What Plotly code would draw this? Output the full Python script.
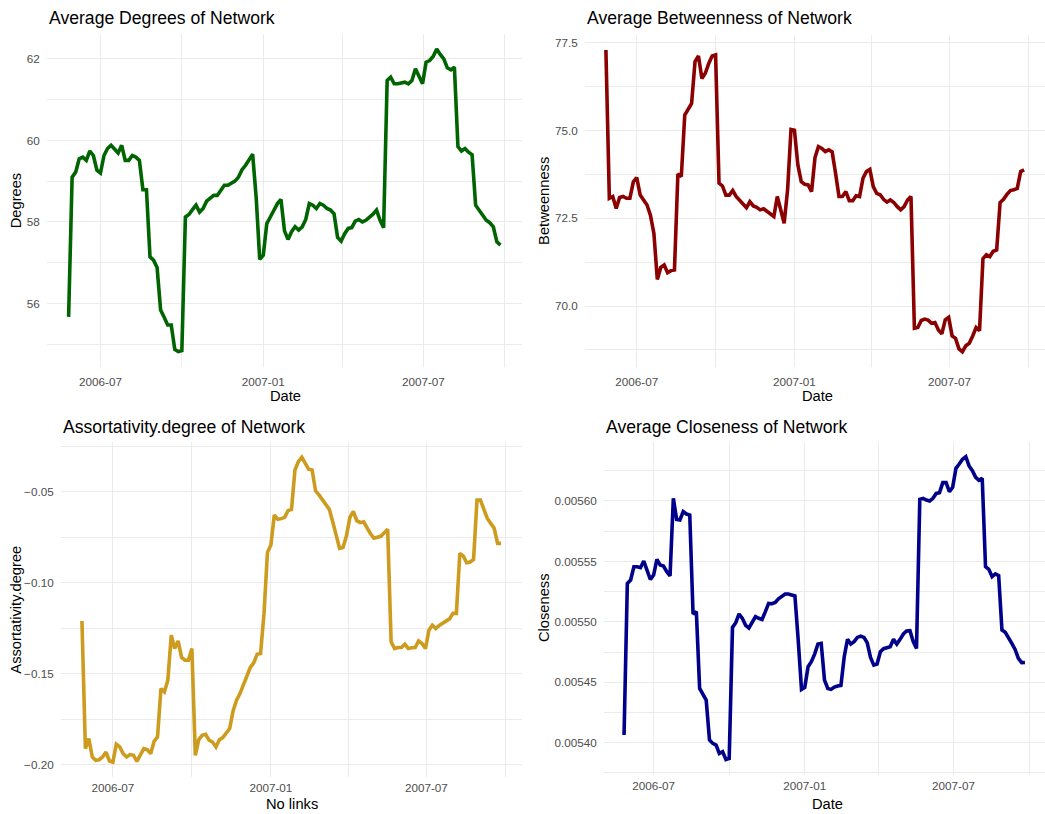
import pandas as pd
import plotly.graph_objects as go

# Sampling dates (every 4 days)
dates = pd.date_range("2006-05-26", periods=123, freq="4D")

degrees = [
    55.67, 59.10, 59.22, 59.55, 59.59, 59.51, 59.74, 59.63, 59.27, 59.20,
    59.63, 59.80, 59.88, 59.80, 59.69, 59.88, 59.51, 59.51, 59.63, 59.59,
    59.51, 58.79, 58.79, 57.14, 57.06, 56.88, 55.84, 55.66, 55.47, 55.47,
    54.87, 54.82, 54.84, 58.12, 58.18, 58.30, 58.41, 58.24, 58.33, 58.51,
    58.57, 58.65, 58.65, 58.76, 58.90, 58.90, 58.94, 59.00, 59.10, 59.28,
    59.39, 59.53, 59.66, 58.60, 57.08, 57.18, 57.96, 58.12, 58.29, 58.45,
    58.55, 57.78, 57.57, 57.76, 57.88, 57.80, 57.88, 58.06, 58.45, 58.41,
    58.33, 58.45, 58.41, 58.33, 58.29, 58.20, 57.62, 57.53, 57.71, 57.84,
    57.86, 58.02, 58.06, 58.00, 58.04, 58.11, 58.19, 58.29, 58.04, 57.86,
    61.47, 61.55, 61.39, 61.39, 61.41, 61.43, 61.39, 61.47, 61.76, 61.55,
    61.39, 61.92, 61.96, 62.06, 62.24, 62.11, 62.00, 61.78, 61.73, 61.80,
    59.85, 59.74, 59.80, 59.71, 59.65, 58.41, 58.29, 58.16, 58.04, 57.98,
    57.88, 57.51, 57.43,
]

betweenness = [
    77.29, 73.07, 73.12, 72.78, 73.09, 73.12, 73.07, 73.07, 73.54, 73.66,
    73.16, 73.04, 72.88, 72.58, 72.07, 70.76, 71.10, 71.17, 70.95, 71.01,
    71.03, 73.76, 73.69, 75.44, 75.63, 75.77, 76.96, 77.12, 76.48, 76.63,
    76.91, 77.12, 77.15, 73.50, 73.42, 73.16, 73.16, 73.29, 73.12, 73.00,
    72.91, 72.80, 72.97, 72.85, 72.81, 72.74, 72.77, 72.69, 72.64, 72.55,
    73.12, 72.74, 72.36, 73.31, 75.03, 75.01, 74.02, 73.54, 73.47, 73.45,
    73.26, 74.23, 74.54, 74.49, 74.40, 74.45, 74.39, 73.78, 73.12, 73.12,
    73.26, 73.00, 73.00, 73.14, 73.12, 73.64, 73.83, 73.89, 73.40, 73.21,
    73.17, 73.04, 72.96, 73.02, 72.95, 72.83, 72.74, 72.83, 73.02, 73.12,
    69.37, 69.39, 69.59, 69.63, 69.60, 69.51, 69.53, 69.32, 69.21, 69.61,
    69.68, 69.15, 69.08, 68.78, 68.70, 68.87, 68.94, 69.15, 69.39, 69.30,
    71.35, 71.46, 71.41, 71.56, 71.60, 72.95, 73.04, 73.18, 73.29, 73.31,
    73.35, 73.83, 73.88,
]

assortativity = [
    -0.1210, -0.1910, -0.1855, -0.1956, -0.1974, -0.1971, -0.1956, -0.1929, -0.1978, -0.1984,
    -0.1886, -0.1901, -0.1938, -0.1956, -0.1943, -0.1947, -0.1980, -0.1947, -0.1910, -0.1916,
    -0.1938, -0.1870, -0.1846, -0.1581, -0.1599, -0.1535, -0.1288, -0.1361, -0.1319, -0.1410,
    -0.1425, -0.1425, -0.1361, -0.1947, -0.1861, -0.1837, -0.1832, -0.1864, -0.1874, -0.1901,
    -0.1861, -0.1850, -0.1824, -0.1800, -0.1703, -0.1645, -0.1608, -0.1557, -0.1513, -0.1465,
    -0.1440, -0.1392, -0.1388, -0.1168, -0.0833, -0.0793, -0.0628, -0.0652, -0.0648, -0.0641,
    -0.0604, -0.0597, -0.0381, -0.0335, -0.0311, -0.0348, -0.0377, -0.0381, -0.0495, -0.0518,
    -0.0542, -0.0568, -0.0597, -0.0665, -0.0738, -0.0811, -0.0806, -0.0742, -0.0641, -0.0608,
    -0.0659, -0.0670, -0.0665, -0.0700, -0.0731, -0.0755, -0.0751, -0.0745, -0.0725, -0.0707,
    -0.1324, -0.1361, -0.1355, -0.1355, -0.1337, -0.1361, -0.1357, -0.1355, -0.1319, -0.1333,
    -0.1361, -0.1260, -0.1233, -0.1251, -0.1234, -0.1223, -0.1214, -0.1198, -0.1168, -0.1168,
    -0.0839, -0.0853, -0.0890, -0.0886, -0.0872, -0.0546, -0.0546, -0.0597, -0.0647, -0.0674,
    -0.0701, -0.0784, -0.0784,
]

closeness = [
    0.0054063, 0.0055318, 0.0055346, 0.0055456, 0.0055456, 0.0055448, 0.0055503, 0.0055415, 0.0055352, 0.0055387,
    0.0055517, 0.0055470, 0.0055462, 0.0055415, 0.0055379, 0.0056022, 0.0055848, 0.0055843, 0.0055912, 0.0055892,
    0.0055884, 0.0055065, 0.0055084, 0.0054449, 0.0054394, 0.0054353, 0.0054022, 0.0053994, 0.0053980, 0.0053911,
    0.0053925, 0.0053861, 0.0053870, 0.0054954, 0.0054993, 0.0055065, 0.0055029, 0.0054971, 0.0054949, 0.0055001,
    0.0055043, 0.0055029, 0.0055020, 0.0055084, 0.0055153, 0.0055150, 0.0055161, 0.0055191, 0.0055211, 0.0055230,
    0.0055230, 0.0055225, 0.0055214, 0.0054849, 0.0054441, 0.0054458, 0.0054629, 0.0054670, 0.0054733, 0.0054816,
    0.0054822, 0.0054518, 0.0054449, 0.0054441, 0.0054460, 0.0054469, 0.0054474, 0.0054711, 0.0054855, 0.0054816,
    0.0054836, 0.0054871, 0.0054882, 0.0054871, 0.0054827, 0.0054706, 0.0054642, 0.0054651, 0.0054753, 0.0054778,
    0.0054786, 0.0054794, 0.0054855, 0.0054816, 0.0054855, 0.0054899, 0.0054924, 0.0054927, 0.0054836, 0.0054780,
    0.0056014, 0.0056022, 0.0056008, 0.0056000, 0.0056022, 0.0056063, 0.0056069, 0.0056152, 0.0056152, 0.0056077,
    0.0056113, 0.0056270, 0.0056306, 0.0056345, 0.0056367, 0.0056290, 0.0056251, 0.0056196, 0.0056171, 0.0056188,
    0.0055456, 0.0055434, 0.0055374, 0.0055396, 0.0055382, 0.0054932, 0.0054913, 0.0054860, 0.0054822, 0.0054772,
    0.0054698, 0.0054662, 0.0054664,
]

W, H = 1045, 814
FONT = "Liberation Sans, Arial, sans-serif"
GRID = "#EBEBEB"
TICK_GREY = "#4D4D4D"


def xdom(a, b):
    return [a / W, b / W]


def ydom(top, bottom):
    return [1 - bottom / H, 1 - top / H]


def padded(vals):
    lo, hi = min(vals), max(vals)
    pad = (hi - lo) * 0.05
    return [lo - pad, hi + pad]


span = dates[-1] - dates[0]
x_range = [dates[0] - span * 0.05, dates[-1] + span * 0.05]

panels = [
    # (values, colour, title, y title, x title, x px, y px, y dtick, y fmt)
    (degrees, "#006400", "Average Degrees of Network", "Degrees", "Date",
     (47, 522), (34, 366.6), 2, ".0f"),
    (betweenness, "#8B0000", "Average Betweenness of Network", "Betweenness", "Date",
     (585, 1045), (35, 366.8), 2.5, ".1f"),
    (assortativity, "#CD9B1D", "Assortativity.degree of Network", "Assortativity.degree", "No links",
     (61, 522), (442, 777.3), 0.05, ".2f"),
    (closeness, "#00008B", "Average Closeness of Network", "Closeness", "Date",
     (604, 1045), (441.5, 774.6), 0.00005, ".5f"),
]

# centres for axis titles (x px) and y-title columns
xtitle_px = [285, 817, 292, 827]
ytitle_px = [16, 544, 16, 544]

fig = go.Figure()
layout = dict(
    template="none",
    width=W, height=H, autosize=False,
    margin=dict(l=0, r=0, t=0, b=0),
    paper_bgcolor="white", plot_bgcolor="white",
    showlegend=False,
    font=dict(family=FONT, color="black"),
)
annotations = []

for k, (vals, colour, title, ytitle, xtitle, xpx, ypx, ydt, yfmt) in enumerate(panels):
    n = "" if k == 0 else str(k + 1)
    fig.add_trace(go.Scatter(
        x=dates, y=vals, mode="lines",
        line=dict(color=colour, width=3.6),
        xaxis="x" + n, yaxis="y" + n,
        hoverinfo="x+y",
    ))
    layout["xaxis" + n] = dict(
        domain=xdom(*xpx), anchor="y" + n, type="date",
        range=x_range, tick0="2006-01-01", dtick="M6", tickformat="%Y-%m",
        showgrid=True, gridcolor=GRID, gridwidth=1.3,
        minor=dict(dtick="M3", tick0="2006-01-01", showgrid=True, gridcolor=GRID, gridwidth=0.9),
        zeroline=False, showline=False,
        ticks="outside", ticklen=4 if k < 2 else 0, tickcolor="rgba(0,0,0,0)",
        tickfont=dict(family=FONT, size=11.7, color=TICK_GREY),
    )
    layout["yaxis" + n] = dict(
        domain=ydom(*ypx), anchor="x" + n,
        range=padded(vals), tick0=0, dtick=ydt, tickformat=yfmt,
        showgrid=True, gridcolor=GRID, gridwidth=1.3,
        minor=dict(dtick=ydt / 2, tick0=0, showgrid=True, gridcolor=GRID, gridwidth=0.9),
        zeroline=False, showline=False,
        ticks="outside", ticklen=4, tickcolor="rgba(0,0,0,0)",
        tickfont=dict(family=FONT, size=11.7, color=TICK_GREY),
    )
    top_px = 18 if k < 2 else 426.7
    annotations.append(dict(
        text=title, xref="paper", yref="paper",
        x=xpx[0] / W, y=1 - top_px / H, xanchor="left", yanchor="middle",
        showarrow=False, font=dict(family=FONT, size=17.6, color="black"),
    ))
    xt_y = 396 if k < 2 else 804
    annotations.append(dict(
        text=xtitle, xref="paper", yref="paper",
        x=xtitle_px[k] / W, y=1 - xt_y / H, xanchor="center", yanchor="middle",
        showarrow=False, font=dict(family=FONT, size=14.7, color="black"),
    ))
    annotations.append(dict(
        text=ytitle, xref="paper", yref="paper", textangle=-90,
        x=ytitle_px[k] / W, y=1 - (ypx[0] + ypx[1]) / 2 / H,
        xanchor="center", yanchor="middle",
        showarrow=False, font=dict(family=FONT, size=14.7, color="black"),
    ))

layout["annotations"] = annotations
fig.update_layout(**layout)
fig.write_html("out.html")
